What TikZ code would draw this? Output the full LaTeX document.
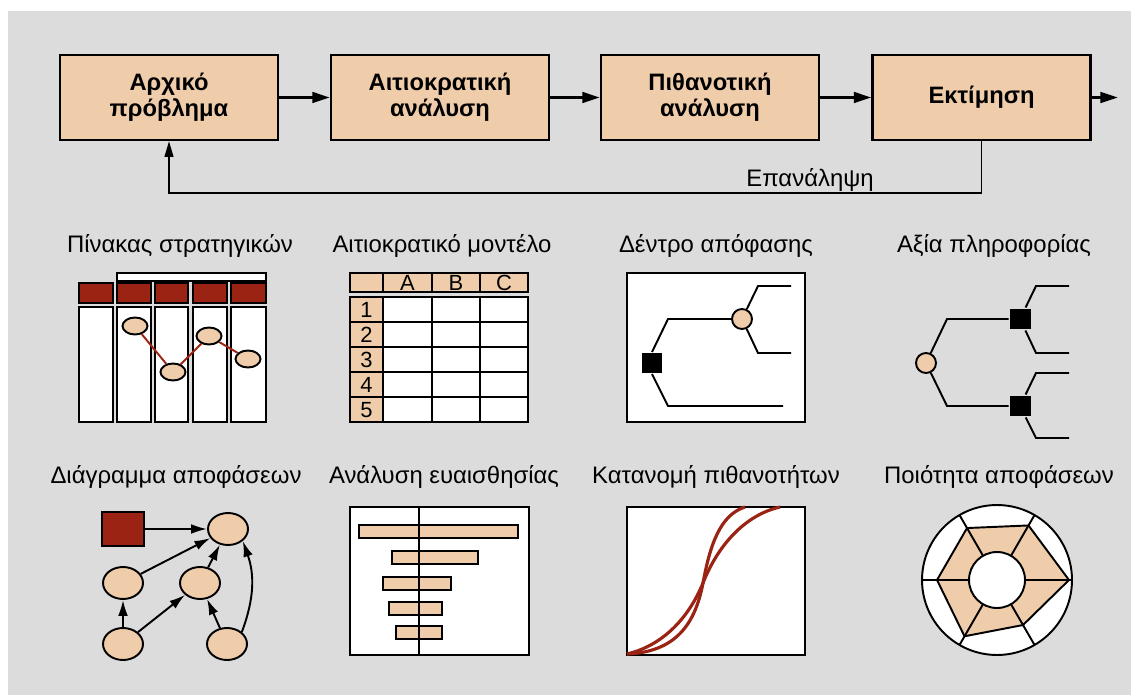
\documentclass[tikz,border=0pt]{standalone}
\usepackage{fontspec}
\setmainfont{Liberation Sans}
\usetikzlibrary{arrows.meta,positioning,shapes.geometric}

\definecolor{panel}{RGB}{220,220,220}
\definecolor{peach}{RGB}{240,205,170}
\definecolor{brick}{RGB}{155,35,20}

\tikzset{
  stage/.style={draw, fill=peach, line width=1.3pt, minimum width=4.36cm,
    minimum height=1.7cm, align=center,
    font=\fontsize{13.5}{15}\selectfont\bfseries},
  flow/.style={-{Triangle[length=10pt,width=6pt]}, line width=1.7pt},
  caption/.style={font=\fontsize{13.6}{15}\selectfont},
  cellfont/.style={font=\fontsize{12.5}{14}\selectfont},
  oval/.style={ellipse, draw, fill=peach, inner sep=0pt},
  infl/.style={-{Latex[length=9pt,width=5.5pt]}, line width=1.1pt},
  blocknode/.style={fill=black, inner sep=0pt, minimum size=#1},
  chance/.style={circle, draw, fill=peach, inner sep=0pt, minimum size=0.4cm}
}

\begin{document}
\begin{tikzpicture}[x=0.02cm, y=-0.02cm, line width=1.1pt]
\useasboundingbox (0,0) rectangle (1131,695);
\fill[panel] (8,11) rectangle (1131,695);

% ---- cycle of the analysis -----------------------------------------------
\node[stage] (init) at (169,97.5) {Αρχικό\\πρόβλημα};
\node[stage] (det)  at (440,97.5) {Αιτιοκρατική\\ανάλυση};
\node[stage] (prob) at (710,97.5) {Πιθανοτική\\ανάλυση};
\node[stage] (eval) at (981.5,97.5) {Εκτίμηση};
\coordinate (out) at (1118,97.5);
\draw[flow] (init) -- (det);
\draw[flow] (det) -- (prob);
\draw[flow] (prob) -- (eval);
\draw[flow] (eval) -- (out);
\draw[-{Triangle[length=9pt,width=5pt]}, line width=1.1pt]
  (eval.south) -- ++(0,52) -| (init.south);
\node[caption] (again) at (810,180) {Επανάληψη};

% ---- captions ------------------------------------------------------------
\node[caption] (c1) at (180,246) {Πίνακας στρατηγικών};
\node[caption] (c2) at (442,246) {Αιτιοκρατικό μοντέλο};
\node[caption] (c3) at (716,246) {Δέντρο απόφασης};
\node[caption] (c4) at (994,246) {Αξία πληροφορίας};
\node[caption] (c5) at (176,477) {Διάγραμμα αποφάσεων};
\node[caption] (c6) at (444,477) {Ανάλυση ευαισθησίας};
\node[caption] (c7) at (716,477) {Κατανομή πιθανοτήτων};
\node[caption] (c8) at (999,477) {Ποιότητα αποφάσεων};

% ---- strategy table --------------------------------------------------------
\draw[fill=white] (117,273) rectangle (266,281);
\foreach \xl/\xr in {79/113,117/151,155/188,193/227,231/266}{
  \draw[fill=brick] (\xl,283) rectangle (\xr,303);
  \draw[fill=white] (\xl,307) rectangle (\xr,422);
}
\node[oval, minimum width=0.5cm, minimum height=0.34cm] (s1) at (135,326) {};
\node[oval, minimum width=0.5cm, minimum height=0.34cm] (s2) at (173,372) {};
\node[oval, minimum width=0.5cm, minimum height=0.34cm] (s3) at (209,336) {};
\node[oval, minimum width=0.5cm, minimum height=0.34cm] (s4) at (248,359) {};
\draw[brick] (s1) -- (s2) (s2) -- (s3) (s3) -- (s4);

% ---- spreadsheet -----------------------------------------------------------
\foreach \xl/\xr/\t in {350/383/{},383/432/A,432/480/B,480/528/C}{
  \draw[fill=peach] (\xl,273) rectangle (\xr,292);
  \node[cellfont] at ({(\xl+\xr)/2},283) {\t};
}
\draw[fill=white] (350,297) rectangle (528,422);
\fill[peach] (350,297) rectangle (383,422);
\foreach \y in {322,347,372,397} \draw (350,\y) -- (528,\y);
\foreach \x in {383,432,480} \draw (\x,297) -- (\x,422);
\draw (350,297) rectangle (528,422);
\foreach \n in {1,...,5}
  \node[cellfont] at (366.5,{285+25*\n}) {\n};

% ---- decision tree ---------------------------------------------------------
\draw[fill=white] (627,273) rectangle (805,422);
\node[blocknode=0.4cm] (dsq) at (652,363) {};
\node[chance] (dch) at (742,319) {};
\draw (dsq.north) -- (668,319) -- (dch.west);
\draw (dch) -- (758,286) -- (791,286);
\draw (dch) -- (758,353) -- (791,353);
\draw (dsq.south) -- (668,406) -- (783,406);

% ---- value of information --------------------------------------------------
\node[chance] (vch) at (926,363) {};
\node[blocknode=0.42cm] (vs1) at (1020,319) {};
\node[blocknode=0.42cm] (vs2) at (1020,406) {};
\draw (vch) -- (947,319) -- (vs1);
\draw (vch) -- (947,406) -- (vs2);
\draw (vs1) -- (1036,286) -- (1069,286);
\draw (vs1) -- (1036,353) -- (1069,353);
\draw (vs2) -- (1036,373) -- (1069,373);
\draw (vs2) -- (1036,438) -- (1069,438);

% ---- influence diagram -----------------------------------------------------
\node[draw, fill=brick, minimum width=0.84cm, minimum height=0.68cm] (dec) at (123,529) {};
\node[oval, minimum width=0.8cm, minimum height=0.64cm] (ua) at (228,529) {};
\node[oval, minimum width=0.8cm, minimum height=0.64cm] (ub) at (123,583) {};
\node[oval, minimum width=0.8cm, minimum height=0.64cm] (uc) at (200,583) {};
\node[oval, minimum width=0.8cm, minimum height=0.64cm] (ud) at (123,644) {};
\node[oval, minimum width=0.8cm, minimum height=0.64cm] (ue) at (227,644) {};
\draw[infl] (dec) -- (ua);
\draw[infl] (ub) -- (ua);
\draw[infl] (uc) -- (ua);
\draw[infl] (ud) -- (ub);
\draw[infl] (ud) -- (uc);
\draw[infl] (ue) -- (uc);
\draw[infl] (ue.north east) to[bend right=20] (ua.south east);

% ---- sensitivity (tornado) -------------------------------------------------
\draw[fill=white] (350,507) rectangle (529,655);
\foreach \xl/\xr/\yt in {359/518/525,392/478/551,383/451/577,389/442/602,396/442/626}
  \draw[fill=peach] (\xl,\yt) rectangle (\xr,{\yt+13});
\draw (419,507) -- (419,655);

% ---- distributions ---------------------------------------------------------
\draw[fill=white] (627,507) rectangle (805,655);
\draw[brick, line width=1.8pt] (627,654) .. controls (675,652) and (695,625) .. (703,583)
  .. controls (710,545) and (720,515) .. (745,507);
\draw[brick, line width=1.8pt] (627,654) .. controls (665,645) and (690,615) .. (703,583)
  .. controls (718,545) and (745,515) .. (780,507);

% ---- decision quality ------------------------------------------------------
\begin{scope}[shift={(997,580)}]
\draw[fill=white] (0,0) circle[radius=1.5cm];
\draw[fill=peach] (120:1.2cm) -- (60:1.26cm) -- (0:1.44cm) -- (-60:1.04cm)
  -- (240:1.3cm) -- (180:1.2cm) -- cycle;
\foreach \a in {0,60,...,300} \draw (\a:0.56cm) -- (\a:1.5cm);
\draw[fill=white] (0,0) circle[radius=0.56cm];
\end{scope}
\end{tikzpicture}
\end{document}
